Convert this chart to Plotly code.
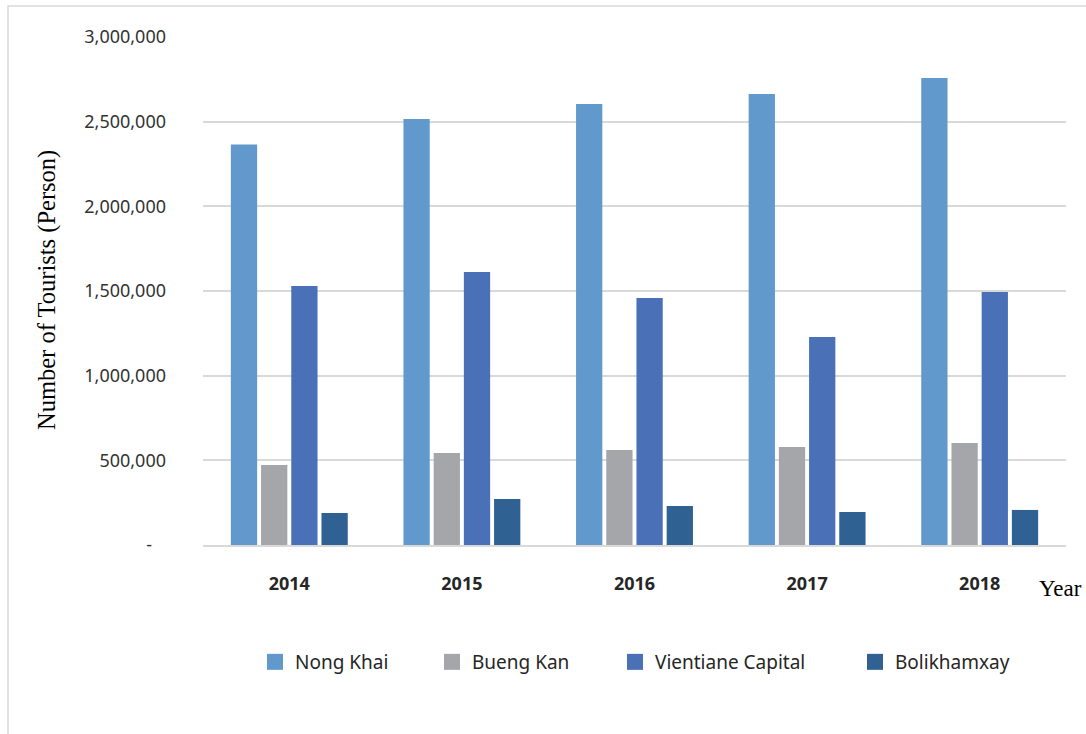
import plotly.graph_objects as go

years = ["2014", "2015", "2016", "2017", "2018"]
nong_khai = [2365000, 2516000, 2604000, 2663000, 2758000]
bueng_kan = [472000, 543000, 561000, 579000, 602000]
vientiane = [1530000, 1612000, 1459000, 1228000, 1494000]
bolikhamxay = [189000, 272000, 230000, 195000, 207000]

series_names = ["Nong Khai", "Bueng Kan", "Vientiane Capital", "Bolikhamxay"]
series_values = [nong_khai, bueng_kan, vientiane, bolikhamxay]
colors = ["#6199CC", "#A5A6AA", "#4A71B8", "#2F6193"]

y_tickvals = [0, 500000, 1000000, 1500000, 2000000, 2500000, 3000000]
y_ticktext = ["-\u00a0\u00a0\u00a0", "500,000", "1,000,000", "1,500,000",
              "2,000,000", "2,500,000", "3,000,000"]

W, H = 1086, 734
PL, PT, PR, PB = 203, 37, 1066, 545   # plot area in page pixels
pw, ph = PR - PL, PB - PT
L, T = PL, PT
R, B = W - L - pw, H - T - ph

def px_x(x):
    return (x - PL) / pw

def px_y(y):
    return (PB - y) / ph

legend_names = ["legend", "legend2", "legend3", "legend4"]
legend_left_px = [255, 432, 615, 855]

fig = go.Figure()
for name, vals, col in zip(series_names, series_values, colors):
    fig.add_trace(go.Bar(x=years, y=vals, name=name, marker_color=col,
                         marker_line_width=0, showlegend=False))
# legend entries with larger square swatches
for name, col, lg in zip(series_names, colors, legend_names):
    fig.add_trace(go.Scatter(x=[None], y=[None], mode="markers", name=name,
                             marker=dict(symbol="square", size=16, color=col),
                             legend=lg, showlegend=True))

font_main = "Noto Sans"
layout_legends = {}
for lg, lx in zip(legend_names, legend_left_px):
    layout_legends[lg] = dict(
        x=px_x(lx), xanchor="left", y=px_y(662), yanchor="middle",
        orientation="h", font=dict(family=font_main, size=19, color="#262626"),
        bgcolor="rgba(0,0,0,0)", borderwidth=0)

fig.update_layout(
    width=W, height=H,
    margin=dict(l=L, r=R, t=T, b=B, autoexpand=False),
    paper_bgcolor="white", plot_bgcolor="white",
    barmode="group", bargap=0.3, bargroupgap=0.13,
    showlegend=True,
    **layout_legends,
)

fig.update_yaxes(
    range=[0, 3000000], tickvals=y_tickvals, ticktext=y_ticktext,
    showgrid=True, gridcolor="#D9D9D9", gridwidth=1.5,
    zeroline=False, showline=False, ticks="",
    ticklabelstandoff=36,
    tickfont=dict(family=font_main, size=18, color="#333333"),
)
fig.update_xaxes(
    showline=True, linecolor="#D9D9D9", linewidth=1.5,
    ticks="", showgrid=False,
    ticklabelstandoff=22,
    tickfont=dict(family=font_main, size=18, color="#262626", weight="bold"),
)

fig.add_annotation(
    text="Number of Tourists (Person)", textangle=-90,
    xref="paper", yref="paper", x=px_x(47), y=px_y(290),
    xanchor="center", yanchor="middle", showarrow=False,
    font=dict(family="Liberation Serif", size=24.5, color="#000000"),
)
fig.add_annotation(
    text="Year", xref="paper", yref="paper", x=px_x(1037), y=px_y(588),
    xanchor="left", yanchor="middle", showarrow=False,
    font=dict(family="Liberation Serif", size=23, color="#000000"),
)

# outer chart border (top and left visible)
fig.add_shape(type="rect", xref="paper", yref="paper",
              x0=px_x(8), y0=px_y(780), x1=px_x(1120), y1=px_y(6),
              line=dict(color="#D9D9D9", width=1.5), fillcolor="rgba(0,0,0,0)",
              layer="below")

fig.write_html(
    "out.html",
    config={"displayModeBar": False},
    post_script="document.body.style.margin='0';document.body.style.overflow='hidden';",
)
